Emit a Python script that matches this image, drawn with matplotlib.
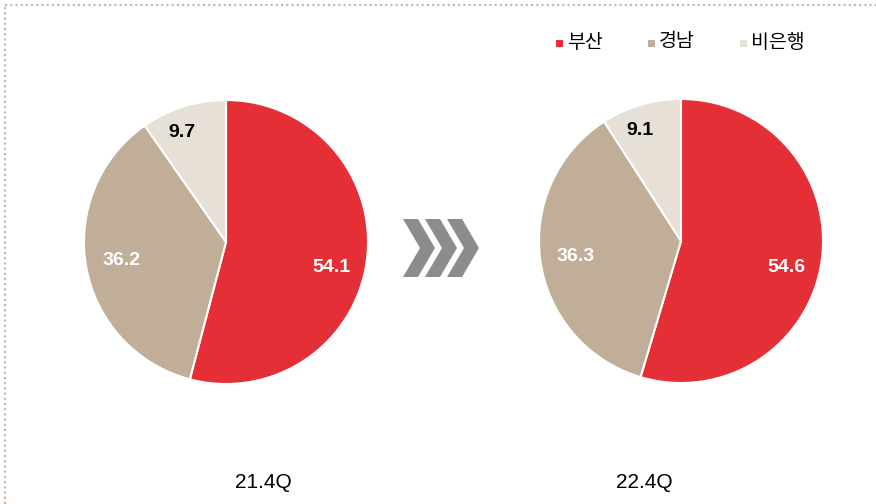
import matplotlib.pyplot as plt
from matplotlib.patches import Polygon
from matplotlib.lines import Line2D
import numpy as np

plt.rcParams['font.family'] = ['Liberation Sans', 'Noto Sans CJK KR', 'DejaVu Sans']

categories = ['부산', '경남', '비은행']
colors = ['#e32f35', '#c0ae98', '#e6e0d6']
periods = ['21.4Q', '22.4Q']
shares = [[54.1, 36.2, 9.7], [54.6, 36.3, 9.1]]
label_colors = ['white', 'white', 'black']
label_dist = [0.75, 0.75, 0.86]
label_shift = [(0.0, -0.08), (0.0, 0.0), (-0.05, -0.05)]

W, H = 876, 504
fig = plt.figure(figsize=(W / 100, H / 100), dpi=100)


def px_axes(cx, cy, r):
    return fig.add_axes([(cx - r) / W, 1 - (cy + r) / H, 2 * r / W, 2 * r / H])


centers = [(226, 242), (681, 241)]
period_x = [263, 644]
radius = 142
for (cx, cy), vals, period, px in zip(centers, shares, periods, period_x):
    ax = px_axes(cx, cy, radius)
    wedges, _ = ax.pie(vals, colors=colors, startangle=90, counterclock=False,
                       wedgeprops=dict(edgecolor='white', linewidth=1.5))
    for w, v, c, d, (sx, sy) in zip(wedges, vals, label_colors, label_dist, label_shift):
        ang = np.deg2rad((w.theta1 + w.theta2) / 2)
        ax.text(d * np.cos(ang) + sx, d * np.sin(ang) + sy, f'{v:.1f}',
                ha='center', va='center', color=c, fontsize=14, fontweight='bold')
    ax.set_xlim(-1, 1)
    ax.set_ylim(-1, 1)
    fig.text(px / W, 1 - 483 / H, period, ha='center', va='center', fontsize=15)

# chevrons between the two pies
for x0 in [403, 425, 447]:
    pts = [(x0, 219), (x0 + 15, 219), (x0 + 32, 248), (x0 + 15, 277),
           (x0, 277), (x0 + 17, 248)]
    fig.patches.append(Polygon([(x / W, 1 - y / H) for x, y in pts],
                               closed=True, transform=fig.transFigure,
                               facecolor='#8c8c8c', edgecolor='none'))

# legend
leg_x = [559, 651, 743]
for x, c, name in zip(leg_x, colors, categories):
    fig.patches.append(Polygon([((x - 3.5) / W, 1 - 40 / H), ((x + 3.5) / W, 1 - 40 / H),
                                ((x + 3.5) / W, 1 - 47 / H), ((x - 3.5) / W, 1 - 47 / H)],
                               closed=True, transform=fig.transFigure,
                               facecolor=c, edgecolor='none'))
    fig.text((x + 8) / W, 1 - 42 / H, name, ha='left', va='center', fontsize=14,
             family=['Noto Sans CJK KR', 'DejaVu Sans'])

# dotted frame
fig.add_artist(Line2D([5 / W, 1], [1 - 5 / H, 1 - 5 / H], transform=fig.transFigure,
                      color='#c8b49c', linestyle=(0, (1, 1.5)), linewidth=1.5))
fig.add_artist(Line2D([5 / W, 5 / W], [0, 1 - 5 / H], transform=fig.transFigure,
                      color='#c8b49c', linestyle=(0, (1, 1.5)), linewidth=1.5))

fig.savefig('out.png', dpi=100)
